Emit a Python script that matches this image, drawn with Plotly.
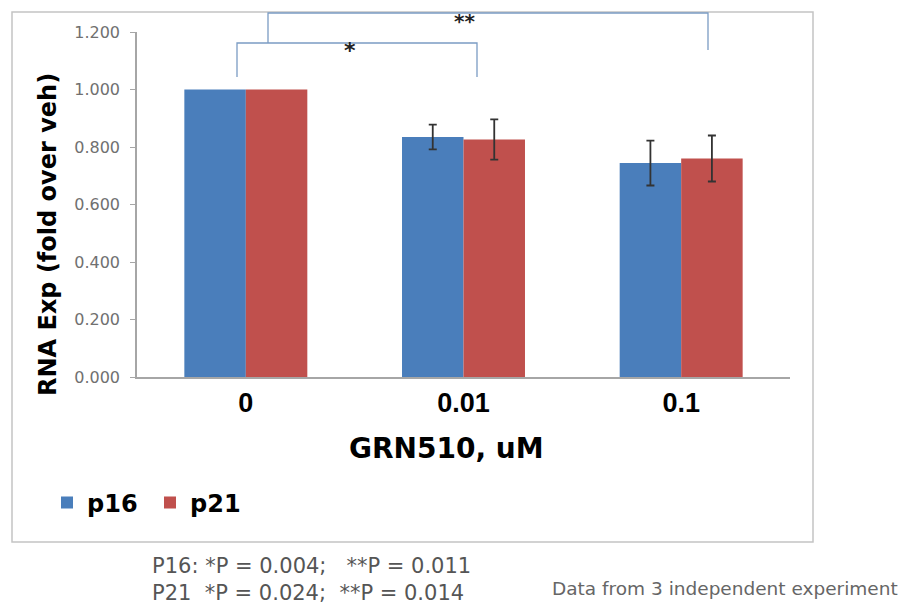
import plotly.graph_objects as go

# ---- data ----
categories = ["0", "0.01", "0.1"]
p16_values = [1.000, 0.835, 0.744]
p21_values = [1.000, 0.826, 0.760]
p16_err = [None, 0.043, 0.078]
p21_err = [None, 0.070, 0.080]
y_ticks = [0.0, 0.2, 0.4, 0.6, 0.8, 1.0, 1.2]
series_names = ["p16", "p21"]
colors = ["#4a7ebb", "#c0504d"]

pvalue_lines = ["P16: *P = 0.004;   **P = 0.011", "P21  *P = 0.024;  **P = 0.014"]
note_text = "Data from 3 independent experiment"

# ---- layout helpers (page pixel -> paper) ----
OFF = 8                 # default body margin of the html page
FW, FH = 893, 599       # figure size (fits the 909x615 window with the body margin)
L, R, T, B = 137, 790, 32, 377   # plot area in page pixels


def px(x):
    return (x - L) / (R - L)


def py(y):
    return (B - y) / (B - T)


def err_array(errs):
    # missing error values are not drawn
    return [("NaN" if e is None else e) for e in errs]


fig = go.Figure()
for name, vals, errs, col in zip(series_names, [p16_values, p21_values], [p16_err, p21_err], colors):
    fig.add_trace(go.Bar(
        name=name, x=categories, y=vals, marker_color=col, marker_line_width=0,
        error_y=dict(type="data", array=err_array(errs), visible=True,
                     color="#333333", thickness=1.8, width=4),
    ))

bracket_color = "#7b9cc4"
shapes = [
    # outer chart border
    dict(type="rect", xref="paper", yref="paper", x0=px(12), x1=px(813), y0=py(542), y1=py(12),
         line=dict(color="#c4c4c4", width=1.5)),
    # * bracket
    dict(type="path", xref="paper", yref="paper",
         path=f"M{px(237)},{py(77)} L{px(237)},{py(43)} L{px(477)},{py(43)} L{px(477)},{py(77)}",
         line=dict(color=bracket_color, width=1.3)),
    # ** bracket
    dict(type="path", xref="paper", yref="paper",
         path=f"M{px(268)},{py(43)} L{px(268)},{py(13)} L{px(708)},{py(13)} L{px(708)},{py(50)}",
         line=dict(color=bracket_color, width=1.3)),
]

annotations = [
    dict(text="<b>*</b>", x=px(350), y=py(51), xref="paper", yref="paper", showarrow=False,
         font=dict(family="DejaVu Sans", size=22, color="#222"), xanchor="center", yanchor="middle"),
    dict(text="<b>**</b>", x=px(465), y=py(21), xref="paper", yref="paper", showarrow=False,
         font=dict(family="DejaVu Sans", size=20, color="#222"), xanchor="center", yanchor="middle"),
    dict(text="<b>RNA Exp (fold over veh)</b>", x=px(48), y=py(235), xref="paper", yref="paper",
         showarrow=False, textangle=-90, xanchor="center", yanchor="middle",
         font=dict(family="DejaVu Sans", size=24, color="#000")),
    dict(text="<b>GRN510, uM</b>", x=px(446), y=py(448), xref="paper", yref="paper",
         showarrow=False, xanchor="center", yanchor="middle",
         font=dict(family="DejaVu Sans", size=28, color="#000")),
    dict(text=pvalue_lines[0], x=px(150), y=py(566), xref="paper", yref="paper",
         showarrow=False, xanchor="left", yanchor="middle",
         font=dict(family="DejaVu Sans", size=21, color="#555")),
    dict(text=pvalue_lines[1], x=px(150), y=py(593), xref="paper", yref="paper",
         showarrow=False, xanchor="left", yanchor="middle",
         font=dict(family="DejaVu Sans", size=21, color="#555")),
    dict(text=note_text, x=px(900), y=py(588), xref="paper", yref="paper",
         showarrow=False, xanchor="right", yanchor="middle",
         font=dict(family="DejaVu Sans", size=18.5, color="#666")),
]

fig.update_layout(
    width=FW, height=FH,
    margin=dict(l=L - OFF, r=FW + OFF - R, t=T - OFF, b=FH + OFF - B, autoexpand=False),
    paper_bgcolor="white", plot_bgcolor="white",
    barmode="group", bargap=0.435, bargroupgap=0,
    shapes=shapes, annotations=annotations,
    showlegend=True,
    legend=dict(orientation="h", x=px(47), y=py(503), xref="paper", yref="paper",
                xanchor="left", yanchor="middle",
                font=dict(family="DejaVu Sans", size=24, color="#000", weight="bold"),
                itemwidth=30, entrywidth=58, entrywidthmode="pixels",
                bgcolor="rgba(0,0,0,0)"),
    font=dict(family="DejaVu Sans"),
)

fig.update_xaxes(
    showline=True, linecolor="#a6a6a6", linewidth=1.5, ticks="", showgrid=False,
    tickfont=dict(family="Liberation Sans", size=27, color="#000", weight="bold"),
    ticklabelstandoff=1,
)
fig.update_yaxes(
    range=[0, 1.2], tickvals=y_ticks, tickformat=".3f",
    showline=True, linecolor="#a6a6a6", linewidth=1.5, ticks="outside", ticklen=5,
    tickcolor="#a6a6a6", showgrid=False, zeroline=False,
    tickfont=dict(family="DejaVu Sans", size=16, color="#707070"),
    ticklabelstandoff=7,
)

fig.write_html("out.html")
